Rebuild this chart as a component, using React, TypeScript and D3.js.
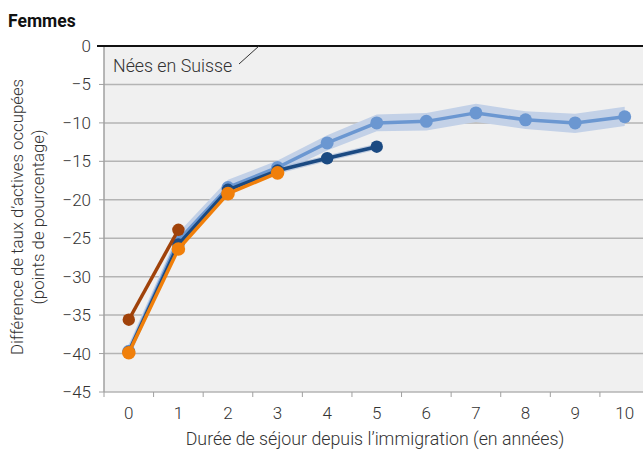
import React from "react";
import * as d3 from "d3";

const years = [0, 1, 2, 3, 4, 5, 6, 7, 8, 9, 10];
const yTicks = [0, -5, -10, -15, -20, -25, -30, -35, -40, -45];

const lightBlue = [-39.7, -25.3, -18.4, -15.8, -12.6, -10.0, -9.8, -8.7, -9.6, -10.0, -9.2];
const lightBlueLow = [-40.6, -26.3, -19.3, -16.7, -13.6, -11.1, -11.0, -9.9, -10.8, -11.3, -10.4];
const lightBlueHigh = [-38.8, -24.3, -17.4, -14.9, -11.6, -8.9, -8.7, -7.5, -8.5, -8.8, -7.9];
const darkBlue = [-39.8, -25.8, -18.7, -16.2, -14.6, -13.1];
const darkBlueLow = [-40.2, -26.2, -19.1, -16.6, -15.0, -13.5];
const darkBlueHigh = [-39.4, -25.4, -18.3, -15.8, -14.2, -12.7];
const orange = [-39.9, -26.4, -19.2, -16.5];
const brown = [-35.6, -23.9];

const W = 643, H = 450;
const font = "Roboto, 'Noto Sans', sans-serif";

export default function App() {
  const x = d3.scaleBand<number>().domain(years).range([104, 649.5]);
  const y = d3.scaleLinear().domain([-45, 0]).range([392, 46]);
  const cx = (i: number) => (x(i) as number) + x.bandwidth() / 2;

  const line = d3.line<number>().x((_, i) => cx(i)).y((d) => y(d));
  const area = (lo: number[], hi: number[]) =>
    d3.area<number>().x((_, i) => cx(i)).y0((_, i) => y(lo[i])).y1((_, i) => y(hi[i]))(lo.map((v) => v)) || "";

  const series = [
    { data: lightBlue, color: "#6b97d1", r: 6.5 },
    { data: darkBlue, color: "#1b4a82", r: 6.2 },
    { data: orange, color: "#f07f0a", r: 6.8 },
    { data: brown, color: "#a0420a", r: 6.2 },
  ];

  return (
    <svg width={W} height={H} style={{ position: "absolute", left: 0, top: 0 }} fontFamily={font} fontWeight={300}>
      <rect x={104} y={46} width={W - 104} height={346} fill="#f0f0f0" />
      {yTicks.filter((t) => t !== 0 && t !== -45).map((t) => (
        <line key={t} x1={104} x2={W} y1={y(t)} y2={y(t)} stroke="#b4b4b4" strokeWidth={1.5} />
      ))}
      <line x1={104} x2={W} y1={y(-45)} y2={y(-45)} stroke="#b4b4b4" strokeWidth={1.5} />
      <line x1={104} x2={104} y1={46} y2={392} stroke="#a0a0a0" strokeWidth={1.5} />
      {yTicks.map((t) => (
        <g key={t}>
          <line x1={99} x2={104} y1={y(t)} y2={y(t)} stroke="#a0a0a0" strokeWidth={1} />
          <text x={91} y={y(t)} dy="0.35em" textAnchor="end" fontSize={17} fill="#333">
            {t === 0 ? "0" : "\u2212" + Math.abs(t)}
          </text>
        </g>
      ))}
      {years.map((yr) => (
        <line key={"t" + yr} x1={x(yr) as number} x2={x(yr) as number} y1={392} y2={397} stroke="#a0a0a0" strokeWidth={1} />
      ))}
      {years.map((yr) => (
        <text key={"l" + yr} x={cx(yr)} y={419} textAnchor="middle" fontSize={17} fill="#333">
          {yr}
        </text>
      ))}
      <text x={375} y={445} textAnchor="middle" fontSize={17.8} fill="#333">
        Durée de séjour depuis l’immigration (en années)
      </text>
      <text transform="translate(23,217) rotate(-90)" textAnchor="middle" fontSize={16.8} fill="#333">
        Différence de taux d’actives occupées
      </text>
      <text transform="translate(44,217) rotate(-90)" textAnchor="middle" fontSize={16.8} fill="#333">
        (points de pourcentage)
      </text>
      <text x={8} y={27} fontSize={17.5} fontWeight="bold" fill="#111">Femmes</text>

      <path d={area(lightBlueLow, lightBlueHigh)} fill="#c3d1e7" />
      <path d={area(darkBlueLow, darkBlueHigh)} fill="#9db3d3" opacity={0.6} />

      {series.map((s, k) => (
        <g key={k}>
          <path d={line(s.data) || ""} fill="none" stroke={s.color} strokeWidth={3.5} strokeLinejoin="round" />
          {s.data.map((v, i) => (
            <circle key={i} cx={cx(i)} cy={y(v)} r={s.r} fill={s.color} />
          ))}
        </g>
      ))}

      <line x1={97} x2={W} y1={46} y2={46} stroke="#111" strokeWidth={2} />
      <text x={113} y={72} fontSize={17.8} fill="#333">Nées en Suisse</text>
      <line x1={239} x2={259} y1={64} y2={46} stroke="#333" strokeWidth={1} />
    </svg>
  );
}
